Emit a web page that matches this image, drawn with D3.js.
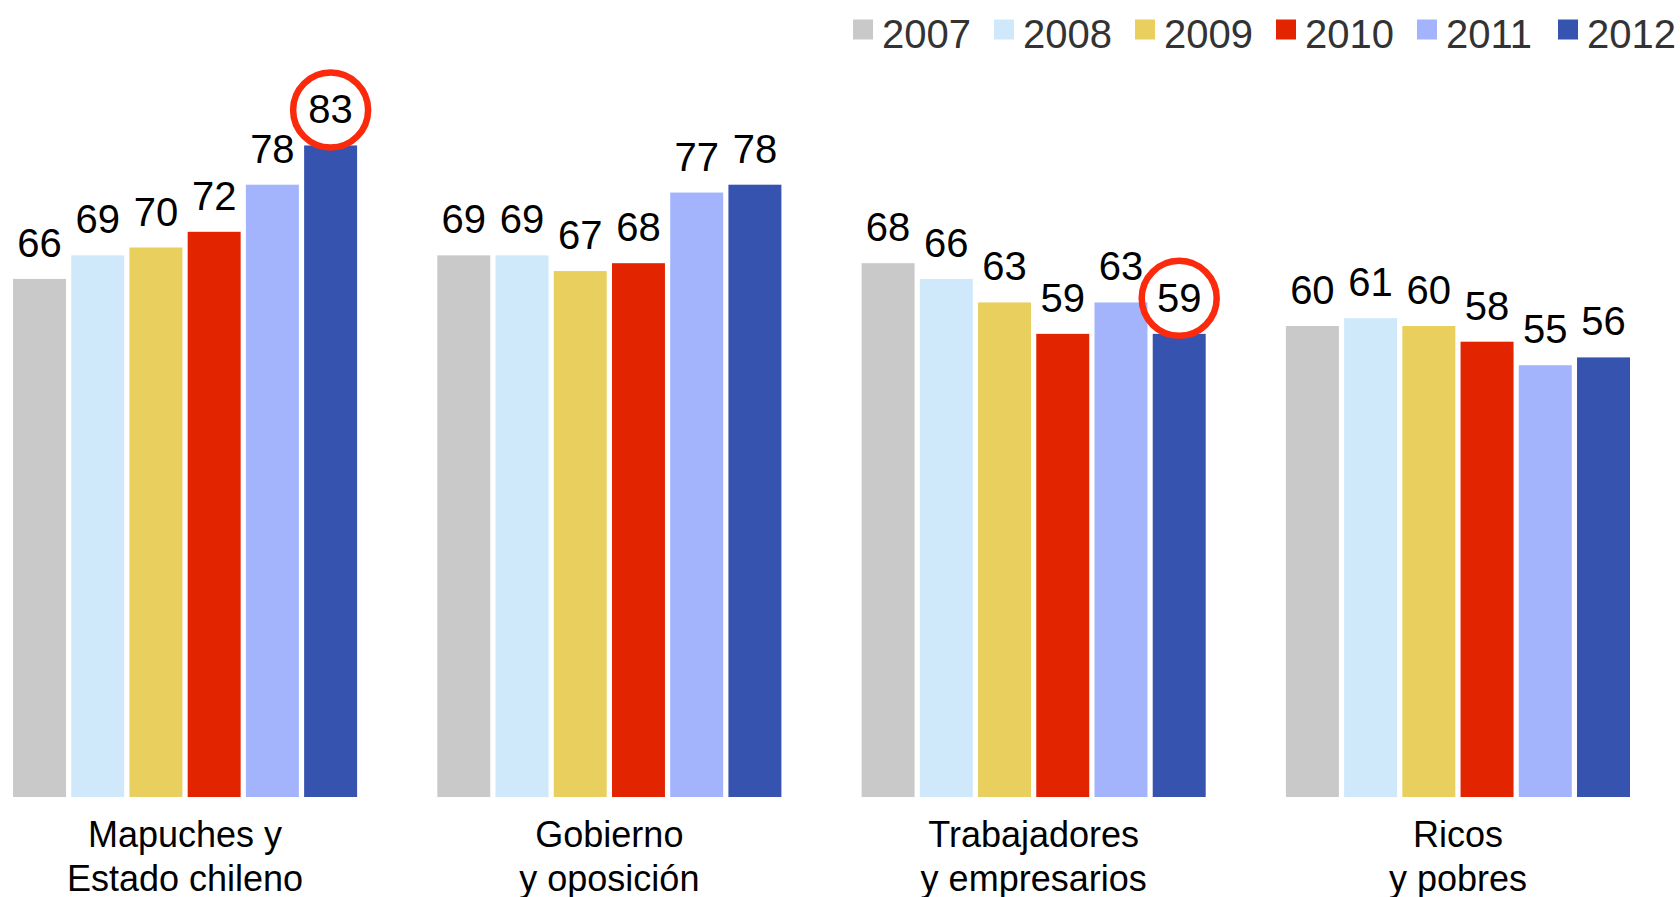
<!DOCTYPE html>
<html>
<head>
<meta charset="utf-8">
<script src="https://cdn.jsdelivr.net/npm/d3@7"></script>
<style>
  html, body { margin: 0; padding: 0; background: #fff; }
  svg { display: block; }
  text { font-family: "Liberation Sans", Arial, sans-serif; }
</style>
</head>
<body>
<svg id="chart" width="1680" height="897"></svg>
<script>
// ---- data ----
const categories = [
  ["Mapuches y", "Estado chileno"],
  ["Gobierno", "y oposición"],
  ["Trabajadores", "y empresarios"],
  ["Ricos", "y pobres"]
];
const years = ["2007", "2008", "2009", "2010", "2011", "2012"];
const v2007 = [66, 69, 68, 60];
const v2008 = [69, 69, 66, 61];
const v2009 = [70, 67, 63, 60];
const v2010 = [72, 68, 59, 58];
const v2011 = [78, 77, 63, 55];
const v2012 = [83, 78, 59, 56];
const colors = ["#c9c9c9", "#cfe9fa", "#e9cf5e", "#e32400", "#a3b4fd", "#3753b0"];
const highlighted = [[0, "2012"], [2, "2012"]];

const seriesValues = [v2007, v2008, v2009, v2010, v2011, v2012];
const catKeys = categories.map((c, i) => i);

// ---- scales ----
const svg = d3.select("#chart");
const baseline = 797;
const x0 = d3.scaleBand().domain(catKeys).range([13, 1630]).paddingInner(0.189).paddingOuter(0);
const x1 = d3.scaleBand().domain(years).range([0, x0.bandwidth()]).paddingInner(0.09).paddingOuter(0);
const y = d3.scaleLinear().domain([0, 100]).range([baseline, baseline - 785]);
const color = d3.scaleOrdinal().domain(years).range(colors);

const rows = [];
catKeys.forEach(ci => years.forEach((yr, si) => rows.push({ ci, yr, v: seriesValues[si][ci] })));

const g = svg.append("g");
const groups = g.selectAll("g.grp").data(catKeys).join("g")
  .attr("class", "grp")
  .attr("transform", d => `translate(${x0(d)},0)`);

groups.selectAll("rect").data(ci => rows.filter(r => r.ci === ci)).join("rect")
  .attr("x", d => x1(d.yr))
  .attr("width", x1.bandwidth())
  .attr("y", d => y(d.v))
  .attr("height", d => y(0) - y(d.v))
  .attr("fill", d => color(d.yr));

groups.selectAll("text.val").data(ci => rows.filter(r => r.ci === ci)).join("text")
  .attr("class", "val")
  .attr("x", d => x1(d.yr) + x1.bandwidth() / 2)
  .attr("y", d => y(d.v) - 22)
  .attr("text-anchor", "middle")
  .attr("font-size", 40)
  .attr("fill", "#000")
  .text(d => d.v);

// highlight rings
highlighted.forEach(([ci, yr]) => {
  const si = years.indexOf(yr);
  const v = seriesValues[si][ci];
  g.append("circle")
    .attr("cx", x0(ci) + x1(yr) + x1.bandwidth() / 2)
    .attr("cy", y(v) - 35.5)
    .attr("r", 37.5)
    .attr("fill", "none")
    .attr("stroke", "#fb2a0c")
    .attr("stroke-width", 6.5);
});

// category axis labels
const xAxis = d3.axisBottom(x0).tickSize(0).tickFormat("");
const axG = svg.append("g").attr("transform", `translate(0,${baseline})`).call(xAxis);
axG.select(".domain").remove();
axG.selectAll(".tick").each(function(ci) {
  const t = d3.select(this).append("text")
    .attr("text-anchor", "middle")
    .attr("font-size", 36)
    .attr("fill", "#000");
  categories[ci].forEach((line, li) => {
    t.append("tspan").attr("x", 0).attr("y", 50 + li * 43.5).text(line);
  });
});

// legend
const legend = svg.append("g");
const lx = d3.scalePoint().domain(years).range([853, 1558]);
const items = legend.selectAll("g").data(years).join("g")
  .attr("transform", d => `translate(${lx(d)},0)`);
items.append("rect").attr("x", 0).attr("y", 19.5).attr("width", 20).attr("height", 20)
  .attr("fill", d => color(d));
items.append("text").attr("x", 29).attr("y", 48).attr("font-size", 40).attr("fill", "#333")
  .text(d => d);
</script>
</body>
</html>
